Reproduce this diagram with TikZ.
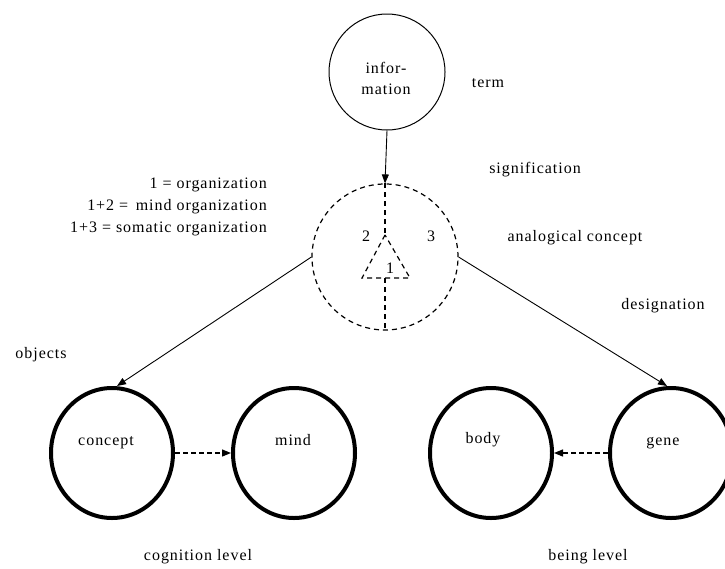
\documentclass[tikz,border=0pt]{standalone}
\usepackage{fontspec}
\setmainfont{Liberation Serif}[LetterSpace=6,Ligatures=NoCommon]
\usetikzlibrary{arrows.meta,shapes.geometric}
\tikzset{
  lbl/.style={font=\fontsize{16}{21}\selectfont, inner sep=0pt, align=center},
  thinring/.style={draw, circle, line width=1pt, minimum size=116pt, inner sep=0pt},
  dashring/.style={draw, circle, line width=1.2pt, dash pattern=on 5pt off 4pt, minimum size=146pt, inner sep=0pt},
  thickring/.style={draw, ellipse, line width=4pt, minimum width=122pt, minimum height=130pt, inner sep=0pt},
  dashin/.style={line width=1.2pt, dash pattern=on 5pt off 4pt},
  tip/.style={-{Triangle[length=9pt,width=7pt]}},
  solidarrow/.style={tip, line width=0.9pt},
  dasharrow/.style={tip, line width=1.3pt, dash pattern=on 5pt off 3pt},
}
\begin{document}
\begin{tikzpicture}[x=1pt,y=-1pt]
\clip (0,0) rectangle (725,568);
\fill[white] (0,0) rectangle (725,568);

% top circle
\node[thinring] (info) at (387,72) {};
\node[lbl] (infotext) at (386,78) {infor-\\mation};
\node[lbl] (term) at (488,83) {term};

% dashed circle
\node[dashring] (dc) at (385,257) {};
\coordinate (apex) at (385,235);
\coordinate (bl) at (362,278);
\coordinate (br) at (410,278);
\coordinate (bm) at (385,278);
\draw[dashin] (dc.north) -- (apex);
\draw[dashin] (apex) -- (bl) -- (br) -- cycle;
\draw[dashin] (bm) -- (dc.south);
\node[lbl] (n1) at (390,268) {1};
\node[lbl] (n2) at (366,236) {2};
\node[lbl] (n3) at (431,236) {3};

% legend
\node[lbl, anchor=east] (leg1) at (267,185) {1 = organization};
\node[lbl, anchor=east] (leg2) at (267,207) {1+2 =\, mind organization};
\node[lbl, anchor=east] (leg3) at (267,229) {1+3 = somatic organization};

% side labels
\node[lbl] (signif) at (535,170) {signification};
\node[lbl] (analog) at (575,238) {analogical concept};
\node[lbl] (design) at (663,306) {designation};
\node[lbl] (objects) at (41,355) {objects};

% bottom circles
\node[thickring] (concept) at (112,453) {};
\node[thickring] (mind) at (294,453) {};
\node[thickring] (body) at (491,453) {};
\node[thickring] (gene) at (671,453) {};
\node[lbl] (tconcept) at (106,443) {concept};
\node[lbl] (tmind) at (293,440) {mind};
\node[lbl] (tbody) at (483,440) {body};
\node[lbl] (tgene) at (663,443) {gene};

\node[lbl] (cog) at (198,557) {cognition level};
\node[lbl] (being) at (588,557) {being level};

% connectors
\draw[solidarrow] (info.south) -- (dc.north);
\coordinate (ctop) at (117,386);
\coordinate (gtop) at (667,386);
\draw[solidarrow] (dc.west) -- (ctop);
\draw[solidarrow] (dc.east) -- (gtop);
\draw[dasharrow] (concept.east) -- (mind.west);
\draw[dasharrow] (gene.west) -- (body.east);
\end{tikzpicture}
\end{document}
